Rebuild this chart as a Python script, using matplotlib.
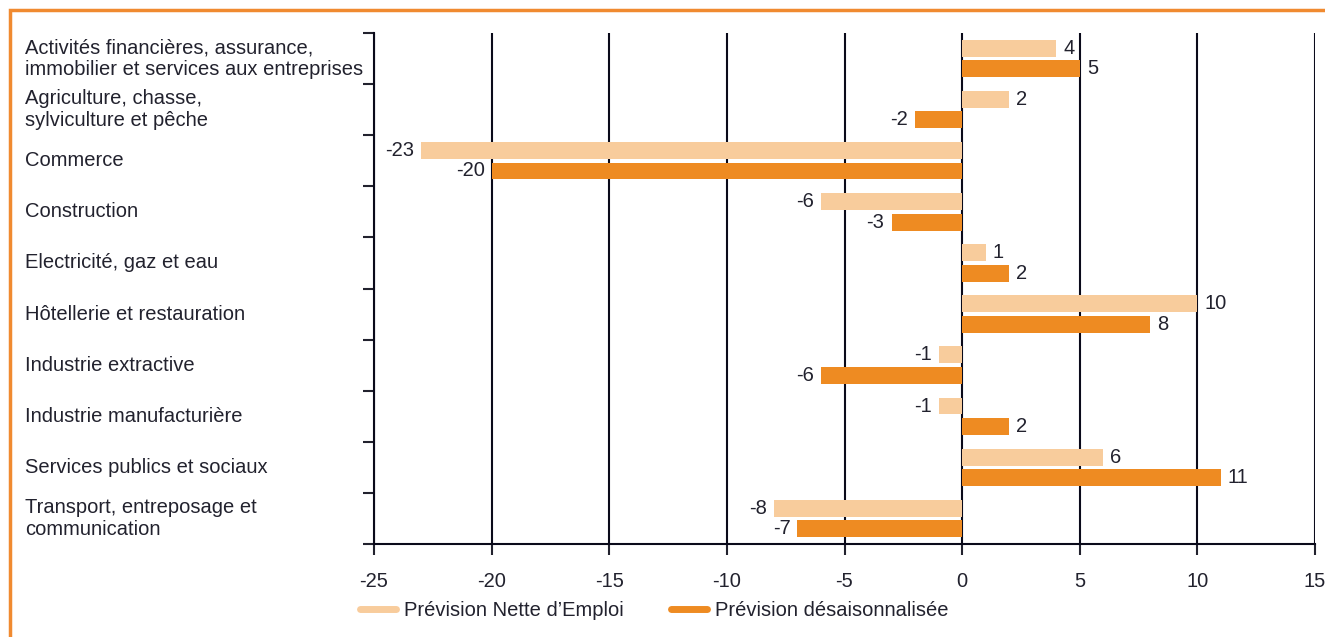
import matplotlib.pyplot as plt
from matplotlib.patches import Rectangle
from matplotlib.lines import Line2D
from matplotlib.transforms import blended_transform_factory
import numpy as np

categories = ["Activités financières, assurance,\nimmobilier et services aux entreprises",
              "Agriculture, chasse,\nsylviculture et pêche",
              "Commerce",
              "Construction",
              "Electricité, gaz et eau",
              "Hôtellerie et restauration",
              "Industrie extractive",
              "Industrie manufacturière",
              "Services publics et sociaux",
              "Transport, entreposage et\ncommunication"]
nette = [4, 2, -23, -6, 1, 10, -1, -1, 6, -8]
desaison = [5, -2, -20, -3, 2, 8, -6, 2, 11, -7]
series_names = ["Prévision Nette d’Emploi", "Prévision désaisonnalisée"]

light = "#F8CC9C"
dark = "#EE8B22"
txt = "#22222E"
fs = 14.5

plt.rcParams['font.family'] = ['Liberation Sans', 'DejaVu Sans']

fig = plt.figure(figsize=(13.25, 6.37), dpi=100)
W, H = 1325, 637
ax = fig.add_axes([374 / W, 1 - 544 / H, (1315 - 374) / W, (544 - 33) / H])

y = np.arange(len(categories))
h = 0.33
ax.barh(y - 0.2, nette, height=h, color=light, zorder=3)
ax.barh(y + 0.2, desaison, height=h, color=dark, zorder=3)

# value labels at the bar ends
for yy, v in zip(y, nette):
    ax.text(v + (0.3 if v >= 0 else -0.3), yy - 0.2, str(v), va='center',
            ha='left' if v >= 0 else 'right', fontsize=fs, color=txt)
for yy, v in zip(y, desaison):
    ax.text(v + (0.3 if v >= 0 else -0.3), yy + 0.2, str(v), va='center',
            ha='left' if v >= 0 else 'right', fontsize=fs, color=txt)

ax.set_xlim(-25, 15)
ax.set_ylim(len(categories) - 0.5, -0.5)
ax.set_xticks(range(-25, 16, 5))
ax.set_xticklabels([str(t) for t in range(-25, 16, 5)], fontsize=fs, color=txt)
ax.tick_params(axis='x', length=8, width=1.5, color=txt, pad=12)
ax.xaxis.grid(True, color='#0a0a1a', linewidth=1.5, zorder=1)

ax.set_yticks(np.arange(-0.5, len(categories) - 0.4, 1))
ax.set_yticklabels([])
ax.tick_params(axis='y', length=8, width=1.5, color=txt)
trans = blended_transform_factory(fig.transFigure, ax.transData)
for yy, c in zip(y, categories):
    ax.text(25 / W, yy, c, transform=trans,
            ha='left', va='center', fontsize=fs, color=txt, linespacing=1.2)

for s in ['top', 'right']:
    ax.spines[s].set_visible(False)
ax.spines['left'].set_color('#0a0a1a')
ax.spines['left'].set_linewidth(1.5)
ax.spines['bottom'].set_color('#0a0a1a')
ax.spines['bottom'].set_linewidth(1.5)

handles = [Line2D([], [], color=light, lw=5, solid_capstyle='round'),
           Line2D([], [], color=dark, lw=5, solid_capstyle='round')]
fig.legend(handles, series_names, loc='center left', bbox_to_anchor=(342 / W, 1 - 611 / H),
           ncol=2, frameon=False, fontsize=fs, handlelength=1.8, columnspacing=2.3,
           handletextpad=0.4, labelcolor=txt)

fig.patches.append(Rectangle((10 / W, -0.1), 1.2, 1 - 10 / H + 0.1, transform=fig.transFigure,
                             fill=False, edgecolor='#F08A30', linewidth=2.5))

fig.savefig("out.png", dpi=100)
